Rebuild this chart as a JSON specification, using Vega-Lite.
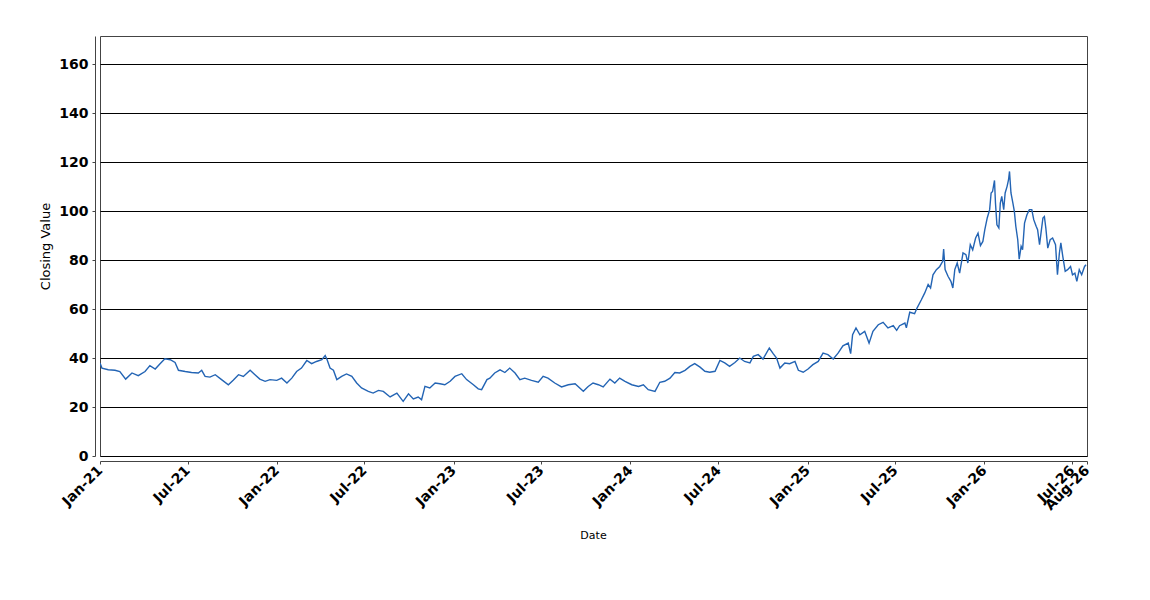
{
  "$schema": "https://vega.github.io/schema/vega-lite/v6.json",
  "width": 987,
  "height": 420,
  "autosize": "none",
  "padding": {"left": 100, "top": 36, "right": 63, "bottom": 144},
  "background": "white",
  "config": {
    "view": {"stroke": "#444444", "strokeWidth": 1},
    "font": "DejaVu Sans"
  },
  "data": {
    "values": [
      {"date": "2021-01-01", "close": 38.0},
      {"date": "2021-01-05", "close": 35.9},
      {"date": "2021-01-18", "close": 35.2},
      {"date": "2021-02-01", "close": 35.0},
      {"date": "2021-02-11", "close": 34.5},
      {"date": "2021-02-23", "close": 31.4},
      {"date": "2021-03-08", "close": 33.9},
      {"date": "2021-03-21", "close": 32.8},
      {"date": "2021-04-04", "close": 34.5},
      {"date": "2021-04-14", "close": 36.9},
      {"date": "2021-04-25", "close": 35.5},
      {"date": "2021-05-05", "close": 37.7},
      {"date": "2021-05-15", "close": 39.7},
      {"date": "2021-05-26", "close": 39.3},
      {"date": "2021-06-05", "close": 38.2},
      {"date": "2021-06-12", "close": 35.0},
      {"date": "2021-06-26", "close": 34.5},
      {"date": "2021-07-09", "close": 34.1},
      {"date": "2021-07-23", "close": 33.9},
      {"date": "2021-07-30", "close": 35.0},
      {"date": "2021-08-06", "close": 32.5},
      {"date": "2021-08-16", "close": 32.2},
      {"date": "2021-08-27", "close": 33.2},
      {"date": "2021-09-09", "close": 31.2},
      {"date": "2021-09-23", "close": 29.1},
      {"date": "2021-10-03", "close": 30.9},
      {"date": "2021-10-14", "close": 33.2},
      {"date": "2021-10-24", "close": 32.5},
      {"date": "2021-11-07", "close": 35.0},
      {"date": "2021-11-17", "close": 33.2},
      {"date": "2021-11-27", "close": 31.4},
      {"date": "2021-12-08", "close": 30.5},
      {"date": "2021-12-18", "close": 31.2},
      {"date": "2022-01-01", "close": 30.9},
      {"date": "2022-01-11", "close": 31.8},
      {"date": "2022-01-22", "close": 29.8},
      {"date": "2022-02-01", "close": 31.8},
      {"date": "2022-02-11", "close": 34.5},
      {"date": "2022-02-21", "close": 35.9},
      {"date": "2022-03-04", "close": 39.0},
      {"date": "2022-03-14", "close": 37.7},
      {"date": "2022-03-24", "close": 38.6},
      {"date": "2022-04-04", "close": 39.3},
      {"date": "2022-04-11", "close": 41.0},
      {"date": "2022-04-15", "close": 39.3},
      {"date": "2022-04-21", "close": 35.9},
      {"date": "2022-04-28", "close": 35.0},
      {"date": "2022-05-05", "close": 31.2},
      {"date": "2022-05-15", "close": 32.5},
      {"date": "2022-05-25", "close": 33.5},
      {"date": "2022-06-05", "close": 32.5},
      {"date": "2022-06-15", "close": 29.8},
      {"date": "2022-06-25", "close": 27.8},
      {"date": "2022-07-09", "close": 26.4},
      {"date": "2022-07-19", "close": 25.7},
      {"date": "2022-07-30", "close": 26.8},
      {"date": "2022-08-09", "close": 26.4},
      {"date": "2022-08-23", "close": 24.1},
      {"date": "2022-09-06", "close": 25.7},
      {"date": "2022-09-19", "close": 22.3},
      {"date": "2022-09-30", "close": 25.4},
      {"date": "2022-10-10", "close": 23.3},
      {"date": "2022-10-20", "close": 24.1},
      {"date": "2022-10-27", "close": 23.0},
      {"date": "2022-11-03", "close": 28.4},
      {"date": "2022-11-13", "close": 27.8},
      {"date": "2022-11-24", "close": 29.8},
      {"date": "2022-12-04", "close": 29.5},
      {"date": "2022-12-14", "close": 29.1},
      {"date": "2022-12-25", "close": 30.5},
      {"date": "2023-01-04", "close": 32.5},
      {"date": "2023-01-18", "close": 33.6},
      {"date": "2023-01-28", "close": 31.2},
      {"date": "2023-02-11", "close": 29.1},
      {"date": "2023-02-21", "close": 27.4},
      {"date": "2023-02-28", "close": 27.1},
      {"date": "2023-03-11", "close": 31.2},
      {"date": "2023-03-17", "close": 31.8},
      {"date": "2023-03-27", "close": 33.9},
      {"date": "2023-04-07", "close": 35.2},
      {"date": "2023-04-17", "close": 34.1},
      {"date": "2023-04-27", "close": 35.9},
      {"date": "2023-05-08", "close": 33.9},
      {"date": "2023-05-18", "close": 31.2},
      {"date": "2023-05-28", "close": 31.8},
      {"date": "2023-06-11", "close": 30.9},
      {"date": "2023-06-25", "close": 30.1},
      {"date": "2023-07-05", "close": 32.5},
      {"date": "2023-07-15", "close": 31.8},
      {"date": "2023-07-29", "close": 29.8},
      {"date": "2023-08-12", "close": 28.2},
      {"date": "2023-08-26", "close": 29.1},
      {"date": "2023-09-09", "close": 29.5},
      {"date": "2023-09-26", "close": 26.4},
      {"date": "2023-10-06", "close": 28.4},
      {"date": "2023-10-16", "close": 29.8},
      {"date": "2023-10-27", "close": 29.1},
      {"date": "2023-11-06", "close": 28.2},
      {"date": "2023-11-20", "close": 31.4},
      {"date": "2023-11-30", "close": 29.8},
      {"date": "2023-12-10", "close": 31.8},
      {"date": "2023-12-21", "close": 30.5},
      {"date": "2024-01-04", "close": 29.1},
      {"date": "2024-01-18", "close": 28.4},
      {"date": "2024-01-28", "close": 29.1},
      {"date": "2024-02-07", "close": 27.1},
      {"date": "2024-02-21", "close": 26.4},
      {"date": "2024-03-02", "close": 30.1},
      {"date": "2024-03-12", "close": 30.5},
      {"date": "2024-03-23", "close": 31.8},
      {"date": "2024-04-02", "close": 34.1},
      {"date": "2024-04-12", "close": 33.9},
      {"date": "2024-04-23", "close": 35.0},
      {"date": "2024-05-03", "close": 36.6},
      {"date": "2024-05-13", "close": 37.7},
      {"date": "2024-05-24", "close": 36.3},
      {"date": "2024-06-03", "close": 34.6},
      {"date": "2024-06-13", "close": 34.2},
      {"date": "2024-06-24", "close": 34.6},
      {"date": "2024-07-04", "close": 39.0},
      {"date": "2024-07-14", "close": 38.0},
      {"date": "2024-07-24", "close": 36.6},
      {"date": "2024-08-04", "close": 38.2},
      {"date": "2024-08-14", "close": 40.0},
      {"date": "2024-08-24", "close": 38.6},
      {"date": "2024-09-04", "close": 38.0},
      {"date": "2024-09-11", "close": 40.7},
      {"date": "2024-09-21", "close": 41.4},
      {"date": "2024-10-01", "close": 39.6},
      {"date": "2024-10-14", "close": 44.1},
      {"date": "2024-10-22", "close": 41.8},
      {"date": "2024-10-29", "close": 40.0},
      {"date": "2024-11-05", "close": 35.9},
      {"date": "2024-11-15", "close": 38.0},
      {"date": "2024-11-25", "close": 37.7},
      {"date": "2024-12-06", "close": 38.6},
      {"date": "2024-12-13", "close": 35.0},
      {"date": "2024-12-23", "close": 34.2},
      {"date": "2025-01-02", "close": 35.5},
      {"date": "2025-01-12", "close": 37.3},
      {"date": "2025-01-23", "close": 38.6},
      {"date": "2025-02-02", "close": 42.0},
      {"date": "2025-02-12", "close": 41.4},
      {"date": "2025-02-23", "close": 39.6},
      {"date": "2025-03-05", "close": 42.0},
      {"date": "2025-03-15", "close": 45.0},
      {"date": "2025-03-26", "close": 46.1},
      {"date": "2025-03-31", "close": 41.8},
      {"date": "2025-04-04", "close": 49.5},
      {"date": "2025-04-11", "close": 52.3},
      {"date": "2025-04-19", "close": 49.5},
      {"date": "2025-04-29", "close": 50.9},
      {"date": "2025-05-08", "close": 46.1},
      {"date": "2025-05-16", "close": 50.9},
      {"date": "2025-05-27", "close": 53.6},
      {"date": "2025-06-06", "close": 54.6},
      {"date": "2025-06-16", "close": 52.3},
      {"date": "2025-06-27", "close": 53.2},
      {"date": "2025-07-04", "close": 51.3},
      {"date": "2025-07-10", "close": 53.2},
      {"date": "2025-07-21", "close": 54.3},
      {"date": "2025-07-24", "close": 52.3},
      {"date": "2025-07-31", "close": 58.7},
      {"date": "2025-08-10", "close": 58.1},
      {"date": "2025-08-15", "close": 60.4},
      {"date": "2025-08-24", "close": 63.8},
      {"date": "2025-08-31", "close": 66.6},
      {"date": "2025-09-07", "close": 70.0},
      {"date": "2025-09-12", "close": 68.6},
      {"date": "2025-09-17", "close": 74.0},
      {"date": "2025-09-24", "close": 76.1},
      {"date": "2025-10-01", "close": 77.4},
      {"date": "2025-10-07", "close": 79.5},
      {"date": "2025-10-09", "close": 84.5},
      {"date": "2025-10-12", "close": 76.1},
      {"date": "2025-10-18", "close": 73.4},
      {"date": "2025-10-24", "close": 71.3},
      {"date": "2025-10-28", "close": 68.6},
      {"date": "2025-11-01", "close": 76.1},
      {"date": "2025-11-06", "close": 78.8},
      {"date": "2025-11-11", "close": 74.7},
      {"date": "2025-11-18", "close": 82.9},
      {"date": "2025-11-24", "close": 82.2},
      {"date": "2025-11-28", "close": 78.8},
      {"date": "2025-12-03", "close": 86.3},
      {"date": "2025-12-08", "close": 84.2},
      {"date": "2025-12-14", "close": 89.0},
      {"date": "2025-12-19", "close": 91.0},
      {"date": "2025-12-24", "close": 85.9},
      {"date": "2025-12-29", "close": 87.6},
      {"date": "2026-01-02", "close": 92.4},
      {"date": "2026-01-07", "close": 97.2},
      {"date": "2026-01-12", "close": 100.6},
      {"date": "2026-01-15", "close": 107.4},
      {"date": "2026-01-18", "close": 108.0},
      {"date": "2026-01-22", "close": 112.5},
      {"date": "2026-01-24", "close": 103.3},
      {"date": "2026-01-27", "close": 94.4},
      {"date": "2026-01-31", "close": 93.1},
      {"date": "2026-02-03", "close": 103.3},
      {"date": "2026-02-06", "close": 106.0},
      {"date": "2026-02-10", "close": 100.6},
      {"date": "2026-02-13", "close": 107.4},
      {"date": "2026-02-17", "close": 110.1},
      {"date": "2026-02-20", "close": 112.8},
      {"date": "2026-02-22", "close": 116.2},
      {"date": "2026-02-25", "close": 107.4},
      {"date": "2026-03-01", "close": 103.3},
      {"date": "2026-03-04", "close": 99.9},
      {"date": "2026-03-07", "close": 93.8},
      {"date": "2026-03-11", "close": 88.3},
      {"date": "2026-03-14", "close": 80.4},
      {"date": "2026-03-18", "close": 85.6},
      {"date": "2026-03-21", "close": 84.2},
      {"date": "2026-03-25", "close": 95.1},
      {"date": "2026-03-30", "close": 98.5},
      {"date": "2026-04-04", "close": 100.6},
      {"date": "2026-04-09", "close": 100.6},
      {"date": "2026-04-13", "close": 96.5},
      {"date": "2026-04-18", "close": 93.8},
      {"date": "2026-04-21", "close": 92.4},
      {"date": "2026-04-25", "close": 86.3},
      {"date": "2026-04-28", "close": 91.0},
      {"date": "2026-05-02", "close": 97.2},
      {"date": "2026-05-05", "close": 97.8},
      {"date": "2026-05-08", "close": 93.1},
      {"date": "2026-05-12", "close": 84.9},
      {"date": "2026-05-17", "close": 88.3},
      {"date": "2026-05-22", "close": 89.0},
      {"date": "2026-05-28", "close": 86.3},
      {"date": "2026-06-01", "close": 74.0},
      {"date": "2026-06-05", "close": 82.9},
      {"date": "2026-06-08", "close": 87.0},
      {"date": "2026-06-12", "close": 81.5},
      {"date": "2026-06-17", "close": 75.4},
      {"date": "2026-06-22", "close": 76.1},
      {"date": "2026-06-28", "close": 77.4},
      {"date": "2026-07-02", "close": 74.0},
      {"date": "2026-07-07", "close": 74.7},
      {"date": "2026-07-11", "close": 71.3},
      {"date": "2026-07-16", "close": 76.1},
      {"date": "2026-07-21", "close": 74.0},
      {"date": "2026-07-27", "close": 77.4},
      {"date": "2026-07-30", "close": 78.1}
    ]
  },
  "mark": {"type": "line", "color": "#2364b4", "strokeWidth": 1.4, "clip": true},
  "encoding": {
    "x": {
      "field": "date",
      "type": "temporal",
      "scale": {
        "type": "utc",
        "domain": [
          {"year": 2021, "month": 1, "date": 1, "utc": true},
          {"year": 2026, "month": 8, "date": 1, "utc": true}
        ],
        "nice": false
      },
      "axis": {
        "title": "Date",
        "titleFont": "DejaVu Sans",
        "titleFontSize": 11,
        "titleFontWeight": "normal",
        "titleColor": "#000000",
        "titleX": 493,
        "titleY": 74,
        "titleBaseline": "middle",
        "titleAlign": "center",
        "format": "%b-%y",
        "values": [
          {"year": 2021, "month": 1, "date": 1, "utc": true},
          {"year": 2021, "month": 7, "date": 1, "utc": true},
          {"year": 2022, "month": 1, "date": 1, "utc": true},
          {"year": 2022, "month": 7, "date": 1, "utc": true},
          {"year": 2023, "month": 1, "date": 1, "utc": true},
          {"year": 2023, "month": 7, "date": 1, "utc": true},
          {"year": 2024, "month": 1, "date": 1, "utc": true},
          {"year": 2024, "month": 7, "date": 1, "utc": true},
          {"year": 2025, "month": 1, "date": 1, "utc": true},
          {"year": 2025, "month": 7, "date": 1, "utc": true},
          {"year": 2026, "month": 1, "date": 1, "utc": true},
          {"year": 2026, "month": 7, "date": 1, "utc": true},
          {"year": 2026, "month": 8, "date": 1, "utc": true}
        ],
        "labelAngle": -45,
        "labelAlign": "right",
        "labelBaseline": "middle",
        "labelFontSize": 14,
        "labelFontWeight": "bold",
        "labelColor": "#000000",
        "labelOverlap": false,
        "labelBound": false,
        "labelFlush": false,
        "labelPadding": 4,
        "offset": 5,
        "grid": false,
        "domainColor": "#444444",
        "tickColor": "#444444",
        "tickSize": 3
      }
    },
    "y": {
      "field": "close",
      "type": "quantitative",
      "scale": {"domain": [0, 171.5], "nice": false},
      "axis": {
        "title": "Closing Value",
        "titleFont": "DejaVu Sans",
        "titleFontSize": 13,
        "titleFontWeight": "normal",
        "titleColor": "#000000",
        "titleX": -50,
        "titleY": 210,
        "titleAngle": -90,
        "titleBaseline": "middle",
        "titleAlign": "center",
        "values": [0, 20, 40, 60, 80, 100, 120, 140, 160],
        "labelFontSize": 14,
        "labelFontWeight": "bold",
        "labelColor": "#000000",
        "labelPadding": 4,
        "offset": 5,
        "grid": true,
        "gridColor": "#000000",
        "gridOpacity": 1,
        "gridWidth": 1,
        "domainColor": "#444444",
        "tickColor": "#444444",
        "tickSize": 3
      }
    }
  }
}
